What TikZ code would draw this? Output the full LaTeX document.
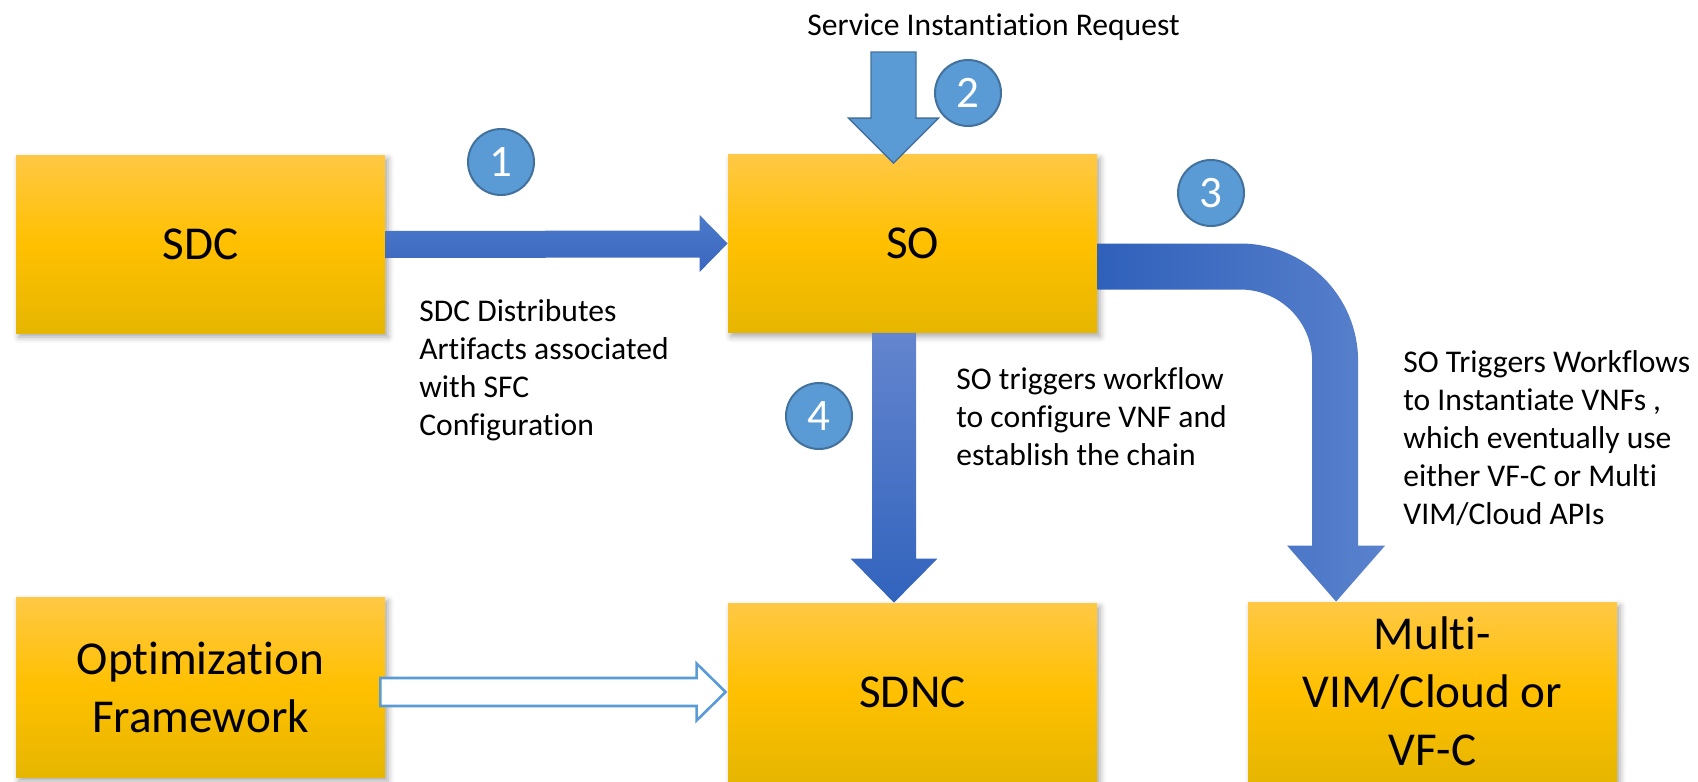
\documentclass[tikz,border=0pt]{standalone}
\usepackage{fontspec}
\setmainfont{Carlito}[Ligatures=NoCommon]
\usetikzlibrary{calc,shadows.blur}
\definecolor{boxtop}{HTML}{FFC845}
\definecolor{boxmid}{HTML}{FFC000}
\definecolor{boxbot}{HTML}{E6B600}
\definecolor{circfill}{HTML}{5B9BD5}
\definecolor{circline}{HTML}{41719C}
\definecolor{aonetop}{HTML}{4C7ACA}
\definecolor{aonebot}{HTML}{3A66BE}
\definecolor{athreeleft}{HTML}{2F60BA}
\definecolor{athreeright}{HTML}{5A82CD}
\definecolor{afourtop}{HTML}{6485CE}
\definecolor{afourbot}{HTML}{3163BD}
\begin{document}
\begin{tikzpicture}[x=0.5pt,y=-0.5pt,
  box/.style={rectangle, minimum width=184.5pt, minimum height=89pt, inner sep=0pt,
    top color=boxtop, bottom color=boxbot, middle color=boxmid,
    blur shadow={shadow xshift=1.5pt, shadow yshift=-2pt, shadow blur radius=3pt, shadow opacity=35},
    font=\fontsize{23.6}{29}\selectfont, align=center},
  numcirc/.style={circle, minimum size=33pt, inner sep=0pt, fill=circfill, draw=circline,
    line width=1pt, text=white, font=\fontsize{22.5}{22.5}\selectfont},
  note/.style={inner sep=0pt, anchor=base west, align=left, font=\fontsize{15.8}{19}\selectfont},
  arrowone/.style={top color=aonetop, bottom color=aonebot, draw=none},
  arrowtwo/.style={fill=circfill, draw=circline, line width=0.7pt},
  arrowthree/.style={left color=athreeleft, right color=athreeright, draw=none},
  arrowfour/.style={top color=afourtop, bottom color=afourbot, draw=none},
  hollow/.style={fill=white, draw=circfill, line width=1.3pt}
]
\useasboundingbox (0,0) rectangle (1698,782);

% boxes
\node[box] (sdc) at (200.5,244) {SDC};
\node[box] (so) at (912.5,243.5) {SO};
\node[box, minimum height=90pt] (opt) at (200.5,687) {Optimization\\Framework};
\node[box] (sdnc) at (912.5,692) {SDNC};
\node[box, minimum height=89.5pt] (multi) at (1432.5,691.5) {Multi-\\VIM/Cloud or\\VF-C};

% arrow 1: SDC -> SO
\coordinate (a1s) at (sdc.east);
\coordinate (a1t) at (so.west);
\path[arrowone] ($(a1s)+(0,-13)$) -- ($(a1t)+(-28,-13)$) -- ($(a1t)+(-28,-28.5)$) -- (a1t)
  -- ($(a1t)+(-28,28.5)$) -- ($(a1t)+(-28,14)$) -- ($(a1s)+(0,14)$) -- cycle;

% arrow 2: request -> SO
\coordinate (a2s) at (893.5,52);
\coordinate (a2t) at ($(a2s |- so.north)+(0,9)$);
\path[arrowtwo] ($(a2s)+(-22.5,0)$) -- ($(a2s)+(22.5,0)$) -- ($(a2t)+(22.5,-45)$) -- ($(a2t)+(45,-45)$)
  -- (a2t) -- ($(a2t)+(-45,-45)$) -- ($(a2t)+(-22.5,-45)$) -- cycle;

% arrow 3: SO -> Multi (bent)
\coordinate (a3s) at (so.east);
\coordinate (a3t) at ($(multi.north west)+(88.5,0)$);
\coordinate (a3c) at (a3t |- a3s);
\path[arrowthree] (a3s) -- ($(a3c)+(-96,0)$)
  .. controls ($(a3c)+(-30.8,0)$) and ($(a3c)+(22,52.5)$) .. ($(a3c)+(22,117.5)$)
  -- ($(a3t)+(22,-56)$) -- ($(a3t)+(49,-56)$) -- (a3t) -- ($(a3t)+(-49,-56)$) -- ($(a3t)+(-24,-56)$)
  -- ($(a3c)+(-24,117.5)$)
  .. controls ($(a3c)+(-24,78)$) and ($(a3c)+(-56.2,46)$) .. ($(a3c)+(-96,46)$)
  -- ($(a3s)+(0,46)$) -- cycle;

% arrow 4: SO -> SDNC
\coordinate (a4t) at ($(sdnc.north)+(-18.5,0)$);
\coordinate (a4s) at (a4t |- so.south);
\path[arrowfour] ($(a4s)+(-22,0)$) -- ($(a4s)+(22,0)$) -- ($(a4t)+(22,-44)$) -- ($(a4t)+(43.5,-44)$)
  -- (a4t) -- ($(a4t)+(-43.5,-44)$) -- ($(a4t)+(-22,-44)$) -- cycle;

% hollow arrow: Optimization -> SDNC
\coordinate (a5t) at ($(sdnc.west)+(-2,0)$);
\coordinate (a5s) at ($(a5t -| opt.east)+(-5,0)$);
\path[hollow] ($(a5s)+(0,-14)$) -- ($(a5t)+(-29,-14)$) -- ($(a5t)+(-29,-28.5)$) -- (a5t)
  -- ($(a5t)+(-29,28.5)$) -- ($(a5t)+(-29,14)$) -- ($(a5s)+(0,14)$) -- cycle;

% numbered circles
\node[numcirc] (n1) at (501,162) {1};
\node[numcirc] (n2) at (968,93) {2};
\node[numcirc] (n3) at (1211,193) {3};
\node[numcirc] (n4) at (819,416) {4};

% texts (base anchor = baseline of the last line)
\node[note] (req) at (807,35) {Service Instantiation Request};
\node[note] (t1) at (419,435) {SDC Distributes\\Artifacts associated\\with SFC\\Configuration};
\node[note] (t4) at (956,465) {SO triggers workflow\\to configure VNF and\\establish the chain};
\node[note] (t3) at (1403,524) {SO Triggers Workflows\\to Instantiate VNFs ,\\which eventually use\\either VF-C or Multi\\VIM/Cloud APIs};
\end{tikzpicture}
\end{document}
